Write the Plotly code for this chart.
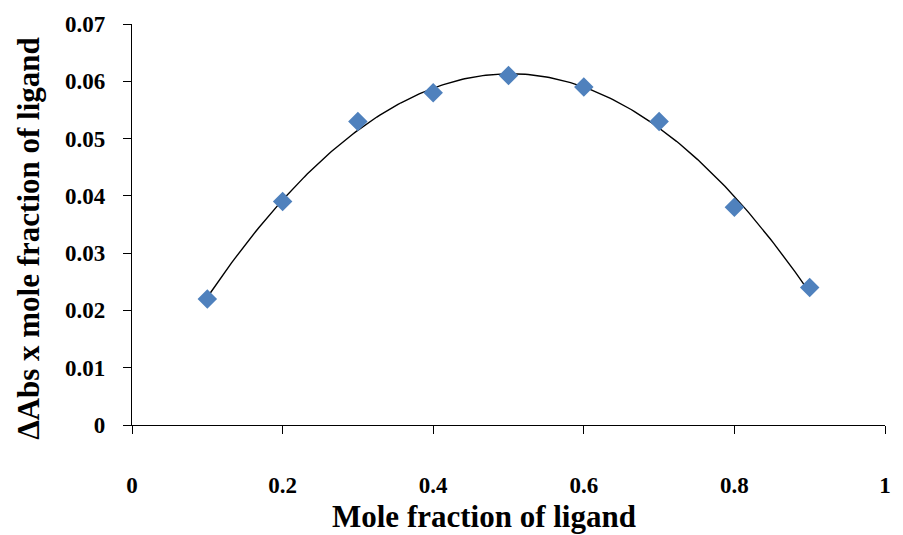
import numpy as np
import plotly.graph_objects as go

x_vals = [0.1, 0.2, 0.3, 0.4, 0.5, 0.6, 0.7, 0.8, 0.9]
y_vals = [0.022, 0.039, 0.053, 0.058, 0.061, 0.059, 0.053, 0.038, 0.024]
x_ticks = [0, 0.2, 0.4, 0.6, 0.8, 1]
x_tick_text = ["0", "0.2", "0.4", "0.6", "0.8", "1"]
y_ticks = [0, 0.01, 0.02, 0.03, 0.04, 0.05, 0.06, 0.07]
y_tick_text = ["0", "0.01", "0.02", "0.03", "0.04", "0.05", "0.06", "0.07"]

coef = np.polyfit(x_vals, y_vals, 2)
xf = np.linspace(min(x_vals), max(x_vals), 200)
yf = np.polyval(coef, xf)

font_family = "Liberation Serif, Times New Roman, serif"

fig = go.Figure()
fig.add_trace(go.Scatter(x=xf, y=yf, mode="lines",
                         line=dict(color="black", width=1.4), showlegend=False,
                         hoverinfo="skip"))
fig.add_trace(go.Scatter(x=x_vals, y=y_vals, mode="markers",
                         marker=dict(symbol="diamond", size=15, color="#4F81BD"),
                         showlegend=False))

fig.update_layout(
    width=903, height=535,
    margin=dict(l=132, r=13, t=23, b=110),
    plot_bgcolor="white", paper_bgcolor="white",
    font=dict(family=font_family, color="black"),
    xaxis=dict(range=[0, 1], tickvals=x_ticks, ticktext=x_tick_text,
               showgrid=False, zeroline=False, showline=True, linecolor="black",
               linewidth=1.3, ticks="outside", ticklen=8, tickcolor="black",
               tickwidth=1.3, ticklabelstandoff=31,
               tickfont=dict(size=23, family=font_family, weight="bold")),
    yaxis=dict(range=[0, 0.07], tickvals=y_ticks, ticktext=y_tick_text,
               showgrid=False, zeroline=False, showline=True, linecolor="black",
               linewidth=1.3, ticks="outside", ticklen=8, tickcolor="black",
               tickwidth=1.3, ticklabelstandoff=13,
               tickfont=dict(size=23, family=font_family, weight="bold")),
    annotations=[
        dict(text="<b>Mole fraction of ligand</b>", xref="paper", yref="paper",
             x=0.468, y=-0.229, xanchor="center", yanchor="middle",
             showarrow=False, font=dict(size=31, family=font_family)),
        dict(text="<b>ΔAbs x mole fraction of ligand</b>", xref="paper", yref="paper",
             x=-0.1385, y=0.466, xanchor="center", yanchor="middle", textangle=-90,
             showarrow=False, font=dict(size=31, family=font_family)),
    ],
)

fig.write_html("out.html")
